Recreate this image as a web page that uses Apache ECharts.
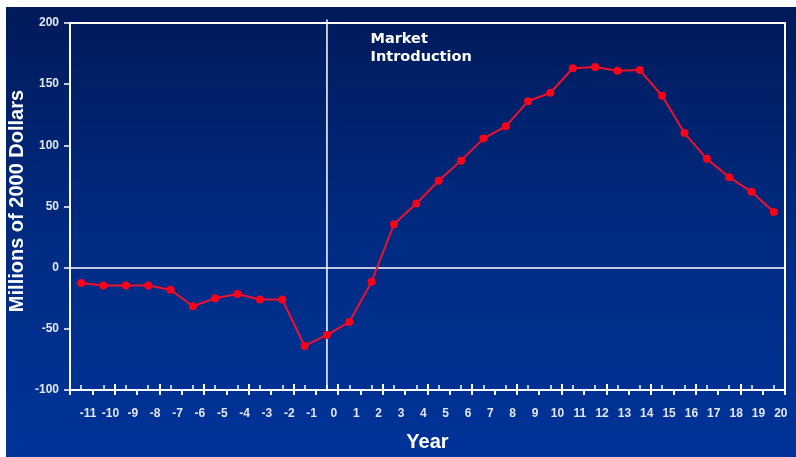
<!DOCTYPE html>
<html>
<head>
<meta charset="utf-8">
<script src="https://cdn.jsdelivr.net/npm/echarts@6/dist/echarts.min.js"></script>
<style>
html,body{margin:0;padding:0;background:#fff;}
#chart{width:796px;height:457px;}
</style>
</head>
<body>
<div id="chart"></div>
<script>
// Year labels (relative to market introduction)
var years = ['-11','-10','-9','-8','-7','-6','-5','-4','-3','-2','-1','0','1','2','3','4','5','6','7','8','9','10','11','12','13','14','15','16','17','18','19','20'];
// Net value, millions of 2000 dollars
var values = [-12.5,-14.5,-14.5,-14.5,-18,-31.5,-25,-21.5,-26,-26,-64,-55,-44.5,-11.5,35.5,52.5,71,87.5,105.5,115.5,136,143,163,164,161,161.5,140.5,110,89,74,62,45.5];
var yTicks = {min: -100, max: 200, interval: 50};
var introIndex = 11; // year 0 = market introduction
var yTitle = 'Millions of 2000 Dollars';
var xTitle = 'Year';
var noteText = 'Market\nIntroduction';

var chart = echarts.init(document.getElementById('chart'), null, {renderer: 'canvas'});
var labelFont = {color: '#e4e6ee', fontFamily: '"Liberation Sans", Arial, sans-serif', fontWeight: 'bold', fontSize: 12};

var option = {
  animation: false,
  backgroundColor: '#ffffff',
  grid: {left: 70, top: 23, right: 11, bottom: 64, show: true, borderColor: '#ffffff', borderWidth: 2, backgroundColor: 'transparent'},
  xAxis: [
    {
      type: 'category', data: years, boundaryGap: true, position: 'bottom',
      name: xTitle, nameLocation: 'middle', nameGap: 42,
      nameTextStyle: {color: '#ffffff', fontFamily: '"Liberation Sans", Arial, sans-serif', fontWeight: 'bold', fontSize: 20},
      axisLine: {show: true, onZero: false, lineStyle: {color: '#ffffff', width: 2}},
      axisTick: {show: true, inside: false, length: 5, lineStyle: {color: '#ffffff', width: 2}},
      axisLabel: Object.assign({margin: 18, interval: 0, padding: [0, 0, 0, 14]}, labelFont),
      splitLine: {show: false}
    },
    {
      type: 'category', data: years, boundaryGap: true, position: 'bottom',
      axisLine: {show: false, onZero: false},
      axisTick: {show: true, inside: true, length: 6, lineStyle: {color: '#ffffff', width: 2}},
      axisLabel: {show: false}, splitLine: {show: false}
    },
    {
      type: 'category', data: years, boundaryGap: true, position: 'bottom',
      axisLine: {show: false, onZero: false},
      axisTick: {show: true, inside: true, alignWithLabel: true, interval: 0, length: 5, lineStyle: {color: '#ffffff', width: 1.5}},
      axisLabel: {show: false}, splitLine: {show: false}
    }
  ],
  yAxis: {
    type: 'value', min: yTicks.min, max: yTicks.max, interval: yTicks.interval,
    axisLine: {show: true, onZero: false, lineStyle: {color: '#ffffff', width: 2}},
    axisTick: {show: true, inside: false, length: 6, lineStyle: {color: '#ffffff', width: 1.5}},
    axisLabel: Object.assign({margin: 11}, labelFont),
    splitLine: {show: false}
  },
  graphic: [
    {
      type: 'rect', z: -10, silent: true,
      shape: {x: 6, y: 7, width: 790, height: 450},
      style: {fill: new echarts.graphic.LinearGradient(0, 0, 0, 1, [
        {offset: 0, color: '#001a5a'},
        {offset: 0.55, color: '#002c85'},
        {offset: 1, color: '#003399'}
      ])}
    },
    {
      type: 'text', z: 10, silent: true, x: 17.5, y: 201, rotation: Math.PI / 2,
      style: {text: yTitle, fill: '#ffffff', font: 'bold 20px "Liberation Sans", Arial, sans-serif', align: 'center', verticalAlign: 'middle'}
    },
    {
      type: 'text', z: 10, silent: true, x: 370.5, y: 29.5,
      style: {text: noteText, fill: '#ffffff', font: 'bold 14.5px "DejaVu Sans", Verdana, sans-serif', lineHeight: 18.5, align: 'left', verticalAlign: 'top'}
    }
  ],
  series: [{
    type: 'line', data: values, xAxisIndex: 0, yAxisIndex: 0,
    symbol: 'circle', symbolSize: 8, showSymbol: true,
    itemStyle: {color: '#ff0018'},
    lineStyle: {color: '#f0102c', width: 2},
    z: 5,
    markLine: {
      silent: true, symbol: 'none', label: {show: false}, animation: false,
      lineStyle: {color: '#ffffff', width: 1.5, type: 'solid'},
      data: [{yAxis: 0}]
    }
  }]
};
chart.setOption(option);

// vertical market-introduction line, placed through the chart's own scales
var px = chart.convertToPixel({xAxisIndex: 0}, introIndex);
var pBottom = chart.convertToPixel({yAxisIndex: 0}, yTicks.min);
var pTop = chart.convertToPixel({yAxisIndex: 0}, yTicks.max);
var g = option.graphic.slice();
g.push({
  type: 'line', z: 1, silent: true,
  shape: {x1: px, y1: pTop - 3.5, x2: px, y2: pBottom},
  style: {stroke: '#ffffff', lineWidth: 1.5}
});
chart.setOption({graphic: g});
</script>
</body>
</html>
